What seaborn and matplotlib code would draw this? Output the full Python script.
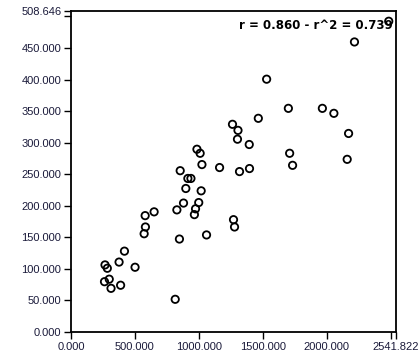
import matplotlib
matplotlib.use("Agg")
import matplotlib.pyplot as plt
import seaborn as sns
import pandas as pd

# ---- data ----
x_values = [2485, 2217, 1530, 1700, 1966, 2056, 1465, 1263, 1306, 2171,
            1302, 1394, 985, 1010, 1024, 1710, 2160, 1733, 854, 1162,
            1318, 1396, 914, 938, 898, 1018, 880, 999, 828, 974,
            965, 650, 1271, 1279, 848, 1060, 572, 582, 580, 418,
            376, 501, 266, 284, 262, 299, 313, 388, 815]
y_values = [492.4, 459.6, 400.6, 354.4, 354.4, 346.5, 338.6, 329.1, 319.5, 314.6,
            305.5, 297.1, 289.6, 283.2, 265.3, 283.2, 273.6, 264.1, 255.6, 260.6,
            254.2, 259.0, 243.3, 243.3, 227.4, 223.7, 204.3, 205.1, 193.5, 195.2,
            186.0, 190.4, 178.0, 166.4, 147.3, 153.8, 155.7, 166.4, 184.4, 128.1,
            110.8, 102.6, 106.3, 101.0, 79.7, 83.7, 69.2, 74.1, 51.8]

x_ticks = [0, 500, 1000, 1500, 2000, 2500, 2541.822]
x_tick_labels = ["0.000", "500.000", "1000.000", "1500.000", "2000.000", "", "2541.822"]
y_ticks = [0, 50, 100, 150, 200, 250, 300, 350, 400, 450, 500, 508.646]
y_tick_labels = ["0.000", "50.000", "100.000", "150.000", "200.000", "250.000",
                 "300.000", "350.000", "400.000", "450.000", "", "508.646"]
annotation = "r = 0.860 - r^2 = 0.739"

df = pd.DataFrame({"x": x_values, "y": y_values})

sns.set_style("white")
plt.rcParams["font.family"] = ["Liberation Sans", "DejaVu Sans"]

label_color = "#1a1a3a"

fig = plt.figure(figsize=(4.2, 3.6), dpi=100)
ax = fig.add_axes([71 / 420, 1 - 332 / 360, (396 - 71) / 420, (332 - 11) / 360])

sns.scatterplot(data=df, x="x", y="y", ax=ax, marker="o", s=28,
                facecolor="none", edgecolor="black", linewidth=1.3, zorder=3)

ax.set_xlim(0, 2541.822)
ax.set_ylim(0, 508.646)
ax.set_xticks(x_ticks)
ax.set_xticklabels(x_tick_labels)
ax.set_yticks(y_ticks)
ax.set_yticklabels(y_tick_labels)
ax.set_xlabel("")
ax.set_ylabel("")

ax.tick_params(axis="both", direction="out", length=5, width=1.0,
               colors="black", labelcolor=label_color, labelsize=8, pad=2)
ax.tick_params(top=False, right=False, left=True, bottom=True)

for sp in ax.spines.values():
    sp.set_visible(True)
    sp.set_color("black")
    sp.set_linewidth(1.3)

ax.text(0.99, 0.955, annotation, transform=ax.transAxes, ha="right", va="center",
        fontsize=8.5, fontweight="bold", color="black", family="DejaVu Sans", zorder=2)

fig.savefig("out.png", dpi=100)
